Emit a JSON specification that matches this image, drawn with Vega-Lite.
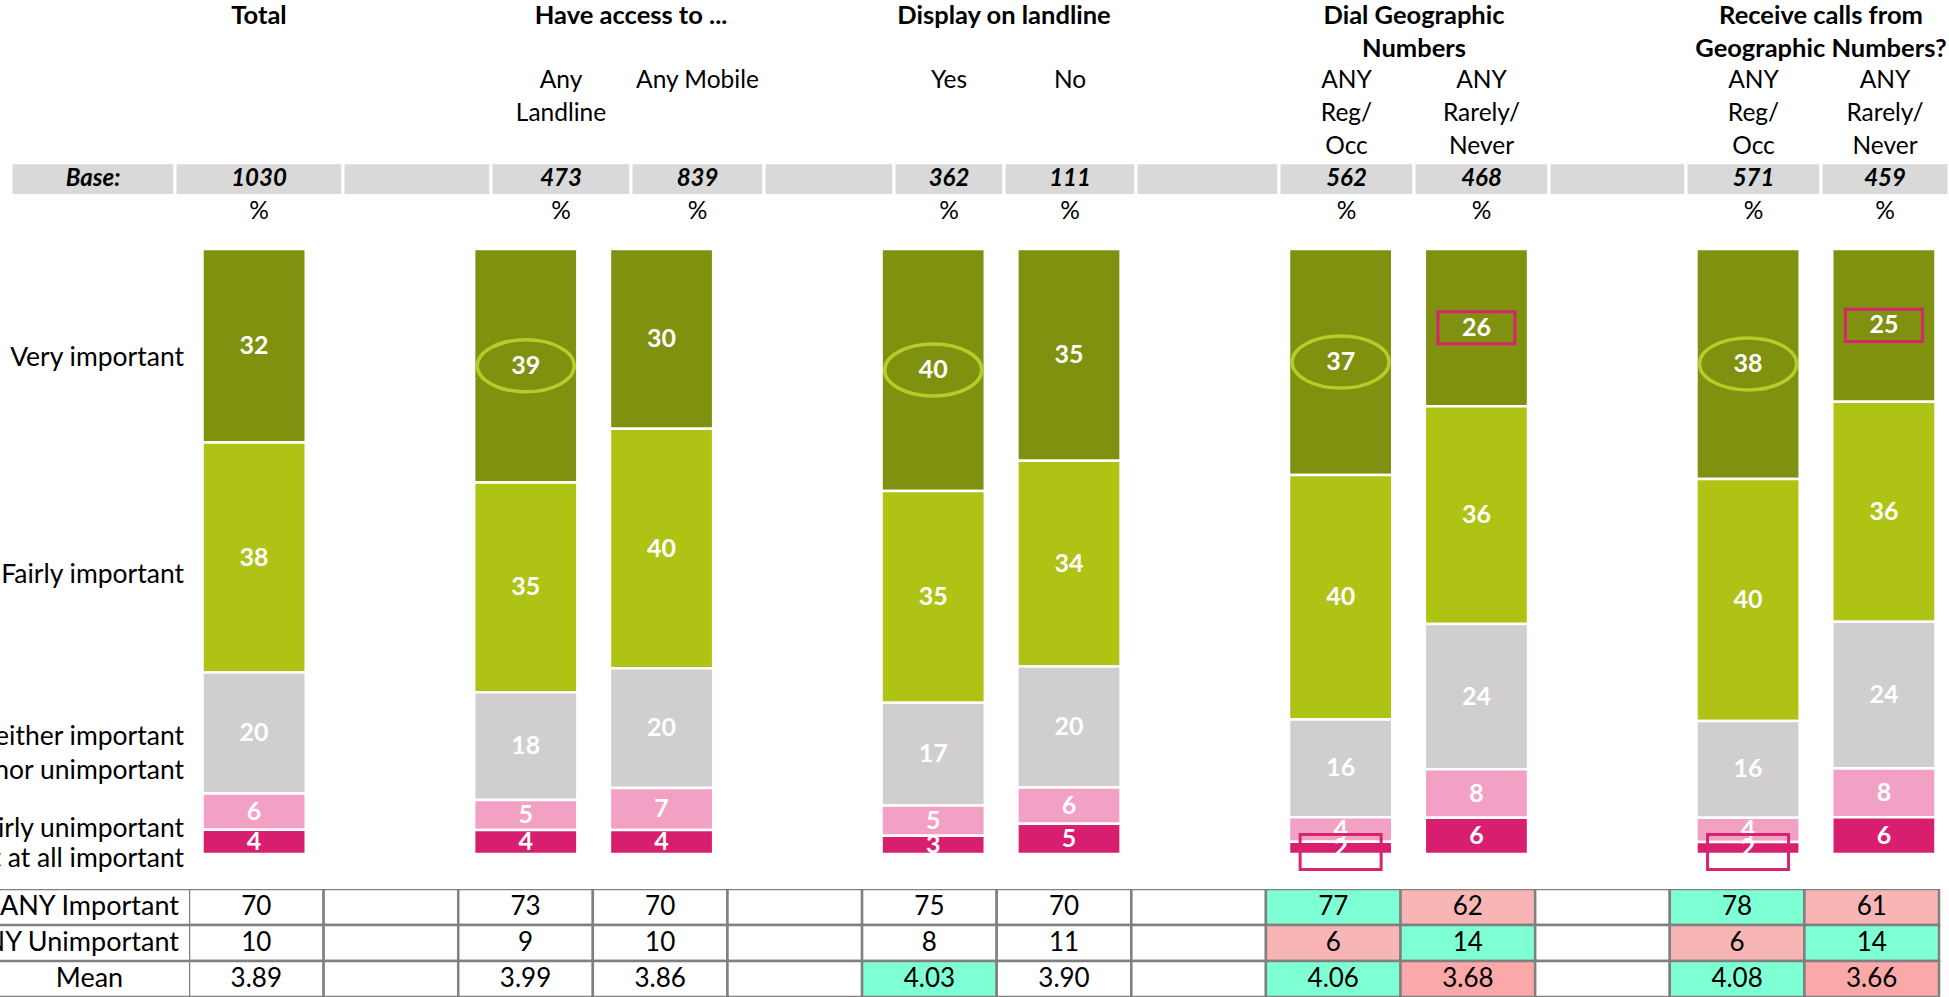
{
  "$schema": "https://vega.github.io/schema/vega-lite/v6.json",
  "padding": 0,
  "background": "white",
  "spacing": 0,
  "bounds": "full",
  "config": {"view": {"stroke": null}, "font": "Lato", "text": {"font": "Lato", "fill": "black"}, "concat": {"spacing": 0}},
  "datasets": {
    "header": [
      {"row": "t1", "c0": 1, "c1": 2, "text": "Total"},
      {"row": "t1", "c0": 3, "c1": 5, "text": "Have access to ..."},
      {"row": "t1", "c0": 6, "c1": 8, "text": "Display on landline"},
      {"row": "t1", "c0": 9, "c1": 11, "text": "Dial Geographic"},
      {"row": "t1", "c0": 12, "c1": 14, "text": "Receive calls from"},
      {"row": "t2", "c0": 9, "c1": 11, "text": "Numbers"},
      {"row": "t2", "c0": 12, "c1": 14, "text": "Geographic Numbers?"},
      {"row": "s1", "c0": 3, "c1": 4, "text": "Any"},
      {"row": "s1", "c0": 4, "c1": 5, "text": "Any Mobile"},
      {"row": "s1", "c0": 6, "c1": 7, "text": "Yes"},
      {"row": "s1", "c0": 7, "c1": 8, "text": "No"},
      {"row": "s1", "c0": 9, "c1": 10, "text": "ANY"},
      {"row": "s1", "c0": 10, "c1": 11, "text": "ANY"},
      {"row": "s1", "c0": 12, "c1": 13, "text": "ANY"},
      {"row": "s1", "c0": 13, "c1": 14, "text": "ANY"},
      {"row": "s2", "c0": 3, "c1": 4, "text": "Landline"},
      {"row": "s2", "c0": 9, "c1": 10, "text": "Reg/"},
      {"row": "s2", "c0": 10, "c1": 11, "text": "Rarely/"},
      {"row": "s2", "c0": 12, "c1": 13, "text": "Reg/"},
      {"row": "s2", "c0": 13, "c1": 14, "text": "Rarely/"},
      {"row": "s3", "c0": 9, "c1": 10, "text": "Occ"},
      {"row": "s3", "c0": 10, "c1": 11, "text": "Never"},
      {"row": "s3", "c0": 12, "c1": 13, "text": "Occ"},
      {"row": "s3", "c0": 13, "c1": 14, "text": "Never"},
      {"row": "base", "c0": 0, "c1": 1, "text": "Base:"},
      {"row": "base", "c0": 1, "c1": 2, "text": "1030"},
      {"row": "base", "c0": 2, "c1": 3, "text": ""},
      {"row": "base", "c0": 3, "c1": 4, "text": "473"},
      {"row": "base", "c0": 4, "c1": 5, "text": "839"},
      {"row": "base", "c0": 5, "c1": 6, "text": ""},
      {"row": "base", "c0": 6, "c1": 7, "text": "362"},
      {"row": "base", "c0": 7, "c1": 8, "text": "111"},
      {"row": "base", "c0": 8, "c1": 9, "text": ""},
      {"row": "base", "c0": 9, "c1": 10, "text": "562"},
      {"row": "base", "c0": 10, "c1": 11, "text": "468"},
      {"row": "base", "c0": 11, "c1": 12, "text": ""},
      {"row": "base", "c0": 12, "c1": 13, "text": "571"},
      {"row": "base", "c0": 13, "c1": 14, "text": "459"},
      {"row": "pct", "c0": 1, "c1": 2, "text": "%"},
      {"row": "pct", "c0": 3, "c1": 4, "text": "%"},
      {"row": "pct", "c0": 4, "c1": 5, "text": "%"},
      {"row": "pct", "c0": 6, "c1": 7, "text": "%"},
      {"row": "pct", "c0": 7, "c1": 8, "text": "%"},
      {"row": "pct", "c0": 9, "c1": 10, "text": "%"},
      {"row": "pct", "c0": 10, "c1": 11, "text": "%"},
      {"row": "pct", "c0": 12, "c1": 13, "text": "%"},
      {"row": "pct", "c0": 13, "c1": 14, "text": "%"}
    ],
    "bars": [
      {"col": "Total", "cat": "Very important", "score": 5, "pct": 32, "sig": null},
      {"col": "Total", "cat": "Fairly important", "score": 4, "pct": 38, "sig": null},
      {"col": "Total", "cat": "Neither important nor unimportant", "score": 3, "pct": 20, "sig": null},
      {"col": "Total", "cat": "Fairly unimportant", "score": 2, "pct": 6, "sig": null},
      {"col": "Total", "cat": "Not at all important", "score": 1, "pct": 4, "sig": null},
      {"col": "Any Landline", "cat": "Very important", "score": 5, "pct": 39, "sig": "higher"},
      {"col": "Any Landline", "cat": "Fairly important", "score": 4, "pct": 35, "sig": null},
      {"col": "Any Landline", "cat": "Neither important nor unimportant", "score": 3, "pct": 18, "sig": null},
      {"col": "Any Landline", "cat": "Fairly unimportant", "score": 2, "pct": 5, "sig": null},
      {"col": "Any Landline", "cat": "Not at all important", "score": 1, "pct": 4, "sig": null},
      {"col": "Any Mobile", "cat": "Very important", "score": 5, "pct": 30, "sig": null},
      {"col": "Any Mobile", "cat": "Fairly important", "score": 4, "pct": 40, "sig": null},
      {"col": "Any Mobile", "cat": "Neither important nor unimportant", "score": 3, "pct": 20, "sig": null},
      {"col": "Any Mobile", "cat": "Fairly unimportant", "score": 2, "pct": 7, "sig": null},
      {"col": "Any Mobile", "cat": "Not at all important", "score": 1, "pct": 4, "sig": null},
      {"col": "Display: Yes", "cat": "Very important", "score": 5, "pct": 40, "sig": "higher"},
      {"col": "Display: Yes", "cat": "Fairly important", "score": 4, "pct": 35, "sig": null},
      {"col": "Display: Yes", "cat": "Neither important nor unimportant", "score": 3, "pct": 17, "sig": null},
      {"col": "Display: Yes", "cat": "Fairly unimportant", "score": 2, "pct": 5, "sig": null},
      {"col": "Display: Yes", "cat": "Not at all important", "score": 1, "pct": 3, "sig": null},
      {"col": "Display: No", "cat": "Very important", "score": 5, "pct": 35, "sig": null},
      {"col": "Display: No", "cat": "Fairly important", "score": 4, "pct": 34, "sig": null},
      {"col": "Display: No", "cat": "Neither important nor unimportant", "score": 3, "pct": 20, "sig": null},
      {"col": "Display: No", "cat": "Fairly unimportant", "score": 2, "pct": 6, "sig": null},
      {"col": "Display: No", "cat": "Not at all important", "score": 1, "pct": 5, "sig": null},
      {"col": "Dial: ANY Reg/Occ", "cat": "Very important", "score": 5, "pct": 37, "sig": "higher"},
      {"col": "Dial: ANY Reg/Occ", "cat": "Fairly important", "score": 4, "pct": 40, "sig": null},
      {"col": "Dial: ANY Reg/Occ", "cat": "Neither important nor unimportant", "score": 3, "pct": 16, "sig": null},
      {"col": "Dial: ANY Reg/Occ", "cat": "Fairly unimportant", "score": 2, "pct": 4, "sig": null},
      {"col": "Dial: ANY Reg/Occ", "cat": "Not at all important", "score": 1, "pct": 2, "sig": "lower"},
      {"col": "Dial: ANY Rarely/Never", "cat": "Very important", "score": 5, "pct": 26, "sig": "lower"},
      {"col": "Dial: ANY Rarely/Never", "cat": "Fairly important", "score": 4, "pct": 36, "sig": null},
      {"col": "Dial: ANY Rarely/Never", "cat": "Neither important nor unimportant", "score": 3, "pct": 24, "sig": null},
      {"col": "Dial: ANY Rarely/Never", "cat": "Fairly unimportant", "score": 2, "pct": 8, "sig": null},
      {"col": "Dial: ANY Rarely/Never", "cat": "Not at all important", "score": 1, "pct": 6, "sig": null},
      {"col": "Receive: ANY Reg/Occ", "cat": "Very important", "score": 5, "pct": 38, "sig": "higher"},
      {"col": "Receive: ANY Reg/Occ", "cat": "Fairly important", "score": 4, "pct": 40, "sig": null},
      {"col": "Receive: ANY Reg/Occ", "cat": "Neither important nor unimportant", "score": 3, "pct": 16, "sig": null},
      {"col": "Receive: ANY Reg/Occ", "cat": "Fairly unimportant", "score": 2, "pct": 4, "sig": null},
      {"col": "Receive: ANY Reg/Occ", "cat": "Not at all important", "score": 1, "pct": 2, "sig": "lower"},
      {"col": "Receive: ANY Rarely/Never", "cat": "Very important", "score": 5, "pct": 25, "sig": "lower"},
      {"col": "Receive: ANY Rarely/Never", "cat": "Fairly important", "score": 4, "pct": 36, "sig": null},
      {"col": "Receive: ANY Rarely/Never", "cat": "Neither important nor unimportant", "score": 3, "pct": 24, "sig": null},
      {"col": "Receive: ANY Rarely/Never", "cat": "Fairly unimportant", "score": 2, "pct": 8, "sig": null},
      {"col": "Receive: ANY Rarely/Never", "cat": "Not at all important", "score": 1, "pct": 6, "sig": null}
    ],
    "table": [
      {"measure": "ANY Important", "col": "Total", "value": 70, "sig": null},
      {"measure": "ANY Important", "col": "gap1", "value": null, "sig": null},
      {"measure": "ANY Important", "col": "Any Landline", "value": 73, "sig": null},
      {"measure": "ANY Important", "col": "Any Mobile", "value": 70, "sig": null},
      {"measure": "ANY Important", "col": "gap2", "value": null, "sig": null},
      {"measure": "ANY Important", "col": "Display: Yes", "value": 75, "sig": null},
      {"measure": "ANY Important", "col": "Display: No", "value": 70, "sig": null},
      {"measure": "ANY Important", "col": "gap3", "value": null, "sig": null},
      {"measure": "ANY Important", "col": "Dial: ANY Reg/Occ", "value": 77, "sig": "higher"},
      {"measure": "ANY Important", "col": "Dial: ANY Rarely/Never", "value": 62, "sig": "lower"},
      {"measure": "ANY Important", "col": "gap4", "value": null, "sig": null},
      {"measure": "ANY Important", "col": "Receive: ANY Reg/Occ", "value": 78, "sig": "higher"},
      {"measure": "ANY Important", "col": "Receive: ANY Rarely/Never", "value": 61, "sig": "lower"},
      {"measure": "ANY Unimportant", "col": "Total", "value": 10, "sig": null},
      {"measure": "ANY Unimportant", "col": "gap1", "value": null, "sig": null},
      {"measure": "ANY Unimportant", "col": "Any Landline", "value": 9, "sig": null},
      {"measure": "ANY Unimportant", "col": "Any Mobile", "value": 10, "sig": null},
      {"measure": "ANY Unimportant", "col": "gap2", "value": null, "sig": null},
      {"measure": "ANY Unimportant", "col": "Display: Yes", "value": 8, "sig": null},
      {"measure": "ANY Unimportant", "col": "Display: No", "value": 11, "sig": null},
      {"measure": "ANY Unimportant", "col": "gap3", "value": null, "sig": null},
      {"measure": "ANY Unimportant", "col": "Dial: ANY Reg/Occ", "value": 6, "sig": "lower"},
      {"measure": "ANY Unimportant", "col": "Dial: ANY Rarely/Never", "value": 14, "sig": "higher"},
      {"measure": "ANY Unimportant", "col": "gap4", "value": null, "sig": null},
      {"measure": "ANY Unimportant", "col": "Receive: ANY Reg/Occ", "value": 6, "sig": "lower"},
      {"measure": "ANY Unimportant", "col": "Receive: ANY Rarely/Never", "value": 14, "sig": "higher"},
      {"measure": "Mean", "col": "Total", "value": 3.89, "sig": null},
      {"measure": "Mean", "col": "gap1", "value": null, "sig": null},
      {"measure": "Mean", "col": "Any Landline", "value": 3.99, "sig": null},
      {"measure": "Mean", "col": "Any Mobile", "value": 3.86, "sig": null},
      {"measure": "Mean", "col": "gap2", "value": null, "sig": null},
      {"measure": "Mean", "col": "Display: Yes", "value": 4.03, "sig": "higher"},
      {"measure": "Mean", "col": "Display: No", "value": 3.90, "sig": null},
      {"measure": "Mean", "col": "gap3", "value": null, "sig": null},
      {"measure": "Mean", "col": "Dial: ANY Reg/Occ", "value": 4.06, "sig": "higher"},
      {"measure": "Mean", "col": "Dial: ANY Rarely/Never", "value": 3.68, "sig": "lower"},
      {"measure": "Mean", "col": "gap4", "value": null, "sig": null},
      {"measure": "Mean", "col": "Receive: ANY Reg/Occ", "value": 4.08, "sig": "higher"},
      {"measure": "Mean", "col": "Receive: ANY Rarely/Never", "value": 3.66, "sig": "lower"}
    ]
  },
  "vconcat": [
    {
      "width": 1949,
      "height": 228,
      "data": {"name": "header"},
      "transform": [{"calculate": "(datum.c0 + datum.c1) / 2", "as": "cm"}],
      "encoding": {
        "y": {"field": "row", "type": "nominal", "scale": {"domain": ["t1", "t2", "s1", "s2", "s3", "base", "pct"], "paddingInner": 0, "paddingOuter": 0}, "axis": null}
      },
      "layer": [
        {
          "transform": [{"filter": "datum.row === 'base'"}],
          "mark": {"type": "rect", "fill": "#D9D9D9", "stroke": "white", "strokeWidth": 3, "clip": true},
          "encoding": {
            "x": {"field": "c0", "type": "quantitative", "scale": {"domain": [0, 1, 2, 3, 4, 5, 6, 7, 8, 9, 10, 11, 12, 13, 14], "range": [11, 175, 343, 491, 631, 764, 894, 1004, 1136, 1279, 1414, 1549, 1686, 1821, 1949], "zero": false, "nice": false}, "axis": null},
            "x2": {"field": "c1"}
          }
        },
        {
          "transform": [{"filter": "datum.row === 't1' || datum.row === 't2'"}],
          "mark": {"type": "text", "fontWeight": "bold", "fontSize": 25.5, "baseline": "middle", "clip": true},
          "encoding": {
            "x": {"field": "cm", "type": "quantitative", "scale": {"domain": [0, 1, 2, 3, 4, 5, 6, 7, 8, 9, 10, 11, 12, 13, 14], "range": [11, 175, 343, 491, 631, 764, 894, 1004, 1136, 1279, 1414, 1549, 1686, 1821, 1949], "zero": false, "nice": false}, "axis": null},
            "text": {"field": "text"}
          }
        },
        {
          "transform": [{"filter": "datum.row === 's1' || datum.row === 's2' || datum.row === 's3' || datum.row === 'pct'"}],
          "mark": {"type": "text", "fontSize": 24.5, "baseline": "middle", "clip": true},
          "encoding": {
            "x": {"field": "cm", "type": "quantitative", "scale": {"domain": [0, 1, 2, 3, 4, 5, 6, 7, 8, 9, 10, 11, 12, 13, 14], "range": [11, 175, 343, 491, 631, 764, 894, 1004, 1136, 1279, 1414, 1549, 1686, 1821, 1949], "zero": false, "nice": false}, "axis": null},
            "text": {"field": "text"}
          }
        },
        {
          "transform": [{"filter": "datum.row === 'base'"}],
          "mark": {"type": "text", "fontSize": 24, "fontWeight": "bold", "fontStyle": "italic", "baseline": "middle", "clip": true},
          "encoding": {
            "x": {"field": "cm", "type": "quantitative", "scale": {"domain": [0, 1, 2, 3, 4, 5, 6, 7, 8, 9, 10, 11, 12, 13, 14], "range": [11, 175, 343, 491, 631, 764, 894, 1004, 1136, 1279, 1414, 1549, 1686, 1821, 1949], "zero": false, "nice": false}, "axis": null},
            "text": {"field": "text"}
          }
        }
      ]
    },
    {
      "spacing": 0,
      "bounds": "flush",
      "hconcat": [
        {
          "width": 189,
          "height": 661,
          "data": {"name": "bars"},
          "transform": [
            {"stack": "pct", "groupby": ["col"], "sort": [{"field": "score", "order": "ascending"}], "offset": "normalize", "as": ["v0", "v1"]},
            {"calculate": "(datum.v0 + datum.v1) / 2", "as": "vmid"},
            {"filter": "datum.col === 'Total'"},
            {"calculate": "replace(datum.cat, ' nor ', '\\nnor ')", "as": "label"}
          ],
          "encoding": {
            "y": {"field": "vmid", "type": "quantitative", "scale": {"domain": [-0.05785, 1.03471], "zero": false, "nice": false}, "axis": null},
            "text": {"field": "label"}
          },
          "layer": [
            {
              "transform": [{"filter": "datum.score === 5"}],
              "mark": {"type": "text", "align": "right", "baseline": "middle", "dx": 89.5, "dy": 12, "fontSize": 26.5, "clip": true}
            },
            {
              "transform": [{"filter": "datum.score === 3"}],
              "mark": {"type": "text", "align": "right", "baseline": "middle", "dx": 89.5, "dy": 4, "fontSize": 26.5, "lineBreak": "\n", "lineHeight": 34, "clip": true}
            },
            {
              "transform": [{"filter": "datum.score !== 5 && datum.score !== 3"}],
              "mark": {"type": "text", "align": "right", "baseline": "middle", "dx": 89.5, "dy": 17, "fontSize": 26.5, "clip": true}
            }
          ]
        },
        {
          "width": 1760,
          "height": 661,
          "data": {"name": "bars"},
          "transform": [
            {"stack": "pct", "groupby": ["col"], "sort": [{"field": "score", "order": "ascending"}], "offset": "normalize", "as": ["v0", "v1"]},
            {"calculate": "(datum.v0 + datum.v1) / 2", "as": "vmid"}
          ],
          "encoding": {
            "x": {"field": "col", "type": "nominal", "scale": {"domain": ["Total", "gap1", "Any Landline", "Any Mobile", "gap2", "Display: Yes", "Display: No", "gap3", "Dial: ANY Reg/Occ", "Dial: ANY Rarely/Never", "gap4", "Receive: ANY Reg/Occ", "Receive: ANY Rarely/Never"], "paddingInner": 0.041, "paddingOuter": 0, "align": 0}, "axis": null}
          },
          "layer": [
            {
              "mark": {"type": "bar", "stroke": "white", "strokeWidth": 2.5, "width": {"band": 0.7926}},
              "encoding": {
                "y": {"field": "v0", "type": "quantitative", "scale": {"domain": [-0.05785, 1.03471], "zero": false, "nice": false}, "axis": null},
                "y2": {"field": "v1"},
                "color": {"field": "cat", "type": "nominal", "scale": {"domain": ["Very important", "Fairly important", "Neither important nor unimportant", "Fairly unimportant", "Not at all important"], "range": ["#7F910E", "#AEC313", "#D0CECF", "#F2A0C4", "#D81E6E"]}, "legend": null}
              }
            },
            {
              "mark": {"type": "text", "fontWeight": "bold", "fontSize": 25, "fill": "white", "baseline": "middle"},
              "encoding": {
                "y": {"field": "vmid", "type": "quantitative", "scale": {"domain": [-0.05785, 1.03471], "zero": false, "nice": false}, "axis": null},
                "text": {"field": "pct", "type": "quantitative"}
              }
            },
            {
              "transform": [{"filter": "datum.sig === 'higher'"}],
              "mark": {"type": "point", "shape": "M 1 0 C 1 0.296 0.552 0.536 0 0.536 C -0.552 0.536 -1 0.296 -1 0 C -1 -0.296 -0.552 -0.536 0 -0.536 C 0.552 -0.536 1 -0.296 1 0 Z", "size": 9409, "filled": false, "color": "#B5CC29", "strokeWidth": 3.5, "opacity": 1},
              "encoding": {
                "y": {"field": "vmid", "type": "quantitative", "scale": {"domain": [-0.05785, 1.03471], "zero": false, "nice": false}, "axis": null}
              }
            },
            {
              "transform": [{"filter": "datum.sig === 'lower' && datum.score === 5"}],
              "mark": {"type": "point", "shape": "M -1 -0.416 L 1 -0.416 L 1 0.416 L -1 0.416 Z", "size": 5929, "filled": false, "color": "#D6246E", "strokeWidth": 3, "opacity": 1},
              "encoding": {
                "y": {"field": "vmid", "type": "quantitative", "scale": {"domain": [-0.05785, 1.03471], "zero": false, "nice": false}, "axis": null}
              }
            },
            {
              "transform": [{"filter": "datum.sig === 'lower' && datum.score === 1"}],
              "mark": {"type": "point", "shape": "M -1 -0.432 L 1 -0.432 L 1 0.432 L -1 0.432 Z", "size": 6561, "filled": false, "color": "#D6246E", "strokeWidth": 3, "opacity": 1, "yOffset": 4},
              "encoding": {
                "y": {"field": "vmid", "type": "quantitative", "scale": {"domain": [-0.05785, 1.03471], "zero": false, "nice": false}, "axis": null}
              }
            }
          ]
        }
      ]
    },
    {
      "spacing": 0,
      "bounds": "flush",
      "hconcat": [
        {
          "width": 189,
          "height": 108,
          "data": {"name": "table"},
          "transform": [{"filter": "datum.col === 'Total'"}],
          "encoding": {
            "y": {"field": "measure", "type": "nominal", "scale": {"domain": ["ANY Important", "ANY Unimportant", "Mean"], "paddingInner": 0, "paddingOuter": 0}, "axis": null}
          },
          "layer": [
            {
              "mark": {"type": "rule", "color": "#808080", "strokeWidth": 2.5, "clip": true},
              "encoding": {
                "y": {"field": "measure", "type": "nominal", "bandPosition": 0, "scale": {"domain": ["ANY Important", "ANY Unimportant", "Mean"], "paddingInner": 0, "paddingOuter": 0}, "axis": null}
              }
            },
            {
              "transform": [{"filter": "datum.measure === 'Mean'"}],
              "mark": {"type": "rule", "color": "#808080", "strokeWidth": 2.5, "clip": true},
              "encoding": {
                "y": {"field": "measure", "type": "nominal", "bandPosition": 1, "scale": {"domain": ["ANY Important", "ANY Unimportant", "Mean"], "paddingInner": 0, "paddingOuter": 0}, "axis": null}
              }
            },
            {
              "transform": [{"filter": "datum.measure !== 'Mean'"}],
              "mark": {"type": "text", "fontSize": 27, "baseline": "middle", "align": "right", "dx": 84.5, "clip": true},
              "encoding": {"text": {"field": "measure"}}
            },
            {
              "transform": [{"filter": "datum.measure === 'Mean'"}],
              "mark": {"type": "text", "fontSize": 27, "baseline": "middle", "dx": -5, "clip": true},
              "encoding": {"text": {"field": "measure"}}
            }
          ]
        },
        {
          "width": 1760,
          "height": 108,
          "data": {"name": "table"},
          "encoding": {
            "x": {"field": "col", "type": "nominal", "scale": {"domain": ["Total", "gap1", "Any Landline", "Any Mobile", "gap2", "Display: Yes", "Display: No", "gap3", "Dial: ANY Reg/Occ", "Dial: ANY Rarely/Never", "gap4", "Receive: ANY Reg/Occ", "Receive: ANY Rarely/Never"], "paddingInner": 0, "paddingOuter": 0.0371, "align": 0}, "axis": null},
            "y": {"field": "measure", "type": "nominal", "scale": {"domain": ["ANY Important", "ANY Unimportant", "Mean"], "paddingInner": 0, "paddingOuter": 0}, "axis": null}
          },
          "layer": [
            {
              "mark": {"type": "rect", "stroke": "#808080", "strokeWidth": 2.5, "clip": true},
              "encoding": {
                "fill": {"condition": [
                  {"test": "datum.sig === 'higher'", "value": "#7FFFD4"},
                  {"test": "datum.sig === 'lower' && datum.measure === 'Mean'", "value": "#FBA8A8"},
                  {"test": "datum.sig === 'lower'", "value": "#F7B5B5"}
                ], "value": "#FFFFFF"}
              }
            },
            {
              "transform": [{"filter": "datum.value != null && datum.measure !== 'Mean'"}],
              "mark": {"type": "text", "fontSize": 26, "baseline": "middle", "clip": true},
              "encoding": {"text": {"field": "value", "type": "quantitative", "format": "d"}}
            },
            {
              "transform": [{"filter": "datum.value != null && datum.measure === 'Mean'"}],
              "mark": {"type": "text", "fontSize": 26, "baseline": "middle", "clip": true},
              "encoding": {"text": {"field": "value", "type": "quantitative", "format": ".2f"}}
            }
          ]
        }
      ]
    }
  ]
}
